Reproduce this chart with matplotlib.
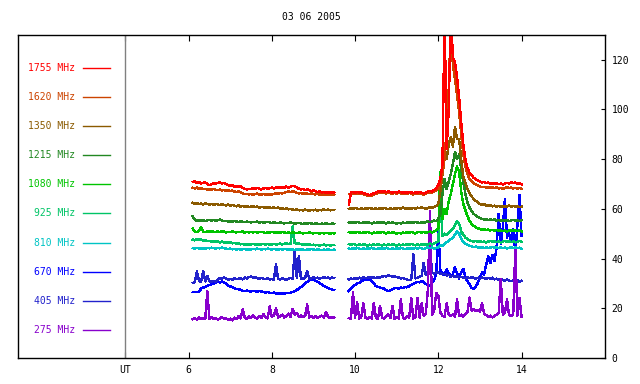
#!/usr/bin/env python3
"""
Multi-frequency solar radio flux, 03 06 2005 (two recorded stretches, flare ~12.2 UT).
"""
import matplotlib
matplotlib.use("Agg")
import matplotlib.pyplot as plt
from matplotlib.transforms import blended_transform_factory

# ---- sampling times (UT hours) ---------------------------------------------
t_a = [6.10, 6.15, 6.20, 6.25, 6.30, 6.35, 6.40, 6.45,
       6.50, 6.55, 6.60, 6.65, 6.70, 6.75, 6.80, 6.85, 6.90, 6.95,
       7.00, 7.05, 7.10, 7.15, 7.20, 7.25, 7.30, 7.35, 7.40, 7.45,
       7.50, 7.55, 7.60, 7.65, 7.70, 7.75, 7.80, 7.85, 7.90, 7.95,
       8.00, 8.05, 8.10, 8.15, 8.20, 8.25, 8.30, 8.35, 8.40, 8.45,
       8.50, 8.55, 8.60, 8.65, 8.70, 8.75, 8.80, 8.85, 8.90, 8.95,
       9.00, 9.05, 9.10, 9.15, 9.20, 9.25, 9.30, 9.35, 9.40, 9.45, 9.50]
t_b = [9.85, 9.90, 9.95, 10.00, 10.05, 10.10, 10.15, 10.20, 10.25, 10.30,
       10.35, 10.40, 10.45, 10.50, 10.55, 10.60, 10.65, 10.70, 10.75, 10.80,
       10.85, 10.90, 10.95, 11.00, 11.05, 11.10, 11.15, 11.20, 11.25, 11.30,
       11.35, 11.40, 11.45, 11.50, 11.55, 11.60, 11.65, 11.70, 11.75, 11.80,
       11.85, 11.90, 11.95,
       12.00, 12.05, 12.10, 12.15, 12.20, 12.25, 12.30, 12.35, 12.40, 12.45,
       12.50, 12.55, 12.60, 12.65, 12.70, 12.75, 12.80, 12.85, 12.90, 12.95,
       13.00, 13.05, 13.10, 13.15, 13.20, 13.25, 13.30, 13.35, 13.40, 13.45,
       13.50, 13.55, 13.60, 13.65, 13.70, 13.75, 13.80, 13.85, 13.90, 13.95, 14.00]

# ---- channel values --------------------------------------------------------
f1755_a = [70.8, 71.0, 70.4, 70.9, 70.2, 70.5, 70.6, 70.0,
           69.6, 69.8, 70.3, 70.1, 70.4, 70.6, 70.2, 70.5, 69.9, 69.5,
           69.3, 69.6, 69.0, 69.2, 68.8, 69.1, 68.4, 68.0, 67.8, 68.1,
           67.9, 68.3, 68.0, 68.4, 68.1, 67.8, 68.2, 68.5, 68.0, 68.3,
           68.6, 68.2, 68.5, 68.8, 68.4, 68.7, 68.5, 69.0, 68.6, 68.9,
           69.3, 69.0, 68.6, 68.1, 67.8, 68.0, 67.5, 67.9, 67.6, 67.2,
           67.4, 67.0, 66.8, 67.1, 66.6, 66.9, 66.5, 66.8, 66.4, 66.7, 66.5]
f1755_b = [61.5, 66.6, 66.9, 66.4, 66.8, 66.5, 66.9, 66.3, 66.1, 65.8,
           65.6, 65.9, 66.2, 66.5, 66.9, 67.2, 66.8, 67.1, 66.7, 67.0,
           66.8, 66.5, 66.9, 66.6, 67.0, 66.7, 66.4, 66.8, 66.5, 66.9,
           66.6, 66.3, 66.7, 66.4, 66.8, 66.5, 66.2, 66.6, 66.9, 67.3,
           67.0, 67.6, 68.2,
           69.5, 72.0, 78.0, 140.0, 84.0, 100.0, 140.0, 121.0, 119.0, 113.0,
           105.0, 95.0, 86.0, 80.0, 76.5, 74.5, 73.5, 72.5, 72.0, 71.4,
           71.0, 70.6, 70.9, 70.3, 70.6, 70.1, 70.4, 70.0, 70.3, 69.9,
           70.2, 69.8, 70.1, 70.5, 70.2, 70.7, 70.4, 70.6, 70.1, 70.3, 69.8]

f1620_a = [68.5, 68.2, 68.6, 68.0, 68.3, 67.9, 68.1, 67.8,
           67.9, 67.6, 68.0, 67.7, 67.5, 67.8, 67.4, 67.6, 67.3, 67.5,
           67.2, 67.4, 67.0, 66.8, 67.1, 66.6, 66.2, 65.9, 66.1, 65.8,
           66.0, 65.7, 65.9, 66.2, 65.8, 65.6, 66.0, 65.7, 65.9, 65.6,
           65.8, 66.0, 66.3, 66.1, 66.4, 66.2, 66.5, 66.8, 67.0, 66.7,
           67.2, 66.9, 66.5, 66.2, 66.4, 66.0, 66.3, 66.1, 65.9, 66.2,
           66.0, 65.8, 66.1, 65.7, 65.9, 65.6, 65.8, 65.5, 65.7, 65.6, 65.8]
f1620_b = [66.0, 66.1, 66.4, 65.9, 66.3, 66.0, 66.4, 65.8, 65.6, 65.3,
           65.1, 65.4, 65.7, 66.0, 66.4, 66.7, 66.3, 66.6, 66.2, 66.5,
           66.3, 66.0, 66.4, 66.1, 66.5, 66.2, 65.9, 66.3, 66.0, 66.4,
           66.1, 65.8, 66.2, 65.9, 66.3, 66.0, 65.7, 66.1, 66.4, 66.8,
           66.5, 67.0, 67.5,
           68.0, 70.0, 74.0, 80.0, 92.0, 108.0, 135.0, 118.0, 112.0, 106.0,
           99.0, 90.0, 82.0, 77.0, 74.0, 72.0, 71.0, 70.2, 69.8, 69.4,
           69.0, 68.7, 68.9, 68.5, 68.8, 68.4, 68.7, 68.3, 68.6, 68.2,
           68.5, 68.1, 68.4, 68.7, 68.3, 68.6, 68.2, 68.5, 68.1, 68.4, 68.0]

f1350_a = [62.4, 62.0, 62.3, 61.9, 62.1, 61.8, 62.2, 61.9,
           61.7, 62.0, 61.6, 61.9, 61.8, 61.5, 61.9, 61.6, 61.4, 61.7,
           61.3, 61.6, 61.2, 61.0, 61.4, 60.9, 61.2, 60.8, 61.1, 60.7,
           60.9, 61.1, 60.6, 60.9, 60.5, 60.8, 60.6, 60.4, 60.7, 60.5,
           60.3, 60.6, 60.2, 60.5, 60.1, 60.3, 59.9, 60.2, 59.8, 60.0,
           59.7, 59.5, 59.8, 59.4, 59.6, 59.3, 59.7, 59.5, 59.2, 59.6,
           59.4, 59.7, 59.3, 59.6, 59.4, 59.8, 59.5, 59.7, 59.4, 59.6, 59.5]
f1350_b = [60.0, 60.2, 60.0, 60.4, 60.1, 59.8, 60.2, 59.9, 60.3, 60.0,
           60.4, 60.1, 59.8, 60.2, 59.9, 60.3, 60.0, 60.4, 60.1, 59.8,
           60.2, 59.9, 60.3, 60.0, 60.4, 60.1, 60.5, 60.2, 59.9, 60.3,
           60.0, 60.4, 60.1, 60.5, 60.2, 60.6, 60.3, 60.0, 60.4, 60.7,
           60.4, 60.8, 61.2,
           62.0, 67.0, 74.0, 83.0, 80.0, 86.0, 89.0, 85.0, 93.0, 88.0,
           88.0, 80.0, 73.0, 70.5, 68.0, 66.3, 65.0, 64.0, 63.2, 62.6,
           62.0, 61.6, 61.9, 61.4, 61.2, 61.5, 61.0, 61.3, 60.9, 61.2,
           60.8, 61.1, 60.7, 61.0, 61.3, 60.9, 61.2, 60.8, 61.1, 60.7, 60.9]

f1215_a = [57.0, 55.6, 55.2, 55.5, 55.1, 55.4, 55.0, 55.3,
           55.6, 55.2, 55.5, 55.1, 55.4, 55.7, 55.3, 55.0, 55.2, 54.9,
           55.1, 54.8, 55.2, 54.9, 54.7, 55.0, 54.8, 54.6, 54.9, 54.7,
           54.5, 54.8, 54.6, 54.9, 54.5, 54.7, 54.4, 54.6, 54.8, 54.5,
           54.3, 54.6, 54.4, 54.2, 54.5, 54.3, 54.1, 54.4, 54.2, 54.5,
           54.3, 54.0, 54.2, 54.4, 54.1, 53.9, 54.2, 54.0, 54.3, 54.1,
           53.9, 54.2, 54.0, 53.8, 54.1, 53.9, 54.2, 54.0, 53.8, 54.1, 53.9]
f1215_b = [54.6, 54.3, 54.7, 54.4, 54.8, 54.5, 54.2, 54.6, 54.3, 54.7,
           54.4, 54.1, 54.5, 54.2, 54.6, 54.3, 54.7, 54.4, 54.1, 54.5,
           54.2, 54.6, 54.3, 54.0, 54.4, 54.1, 54.5, 54.2, 54.6, 54.3,
           54.7, 54.4, 54.8, 54.5, 54.2, 54.6, 54.3, 54.7, 55.0, 54.6,
           54.9, 55.3, 55.0,
           56.0, 58.0, 66.0, 72.0, 68.0, 71.0, 74.0, 78.0, 83.0, 80.0,
           82.0, 76.0, 71.0, 66.0, 62.5, 60.5, 59.0, 58.0, 57.3, 56.8,
           56.3, 56.0, 55.7, 55.9, 55.5, 55.8, 55.4, 55.7, 55.3, 55.6,
           55.2, 55.5, 55.1, 55.4, 55.0, 55.3, 55.6, 55.2, 55.5, 55.1, 55.4]

f1080_a = [52.0, 50.9, 50.7, 51.0, 52.6, 50.8, 50.6, 50.9,
           50.7, 51.0, 50.8, 50.6, 50.9, 50.7, 51.0, 50.8, 50.5, 50.8,
           50.6, 50.9, 50.7, 50.5, 50.8, 50.6, 50.9, 50.4, 50.7, 50.5,
           50.8, 50.5, 50.7, 50.4, 50.6, 50.8, 50.5, 50.3, 50.6, 50.4,
           50.7, 50.5, 50.3, 50.6, 50.4, 50.7, 50.5, 50.2, 50.5, 50.3,
           50.6, 50.4, 50.2, 50.5, 50.3, 50.1, 50.4, 50.2, 50.5, 50.3,
           50.1, 50.4, 50.2, 50.0, 50.3, 50.1, 50.4, 50.2, 50.0, 50.3, 50.1]
f1080_b = [50.6, 50.3, 50.7, 50.4, 50.8, 50.5, 50.2, 50.6, 50.3, 50.7,
           50.4, 50.1, 50.5, 50.2, 50.6, 50.3, 50.7, 50.4, 50.1, 50.5,
           50.2, 50.6, 50.3, 50.0, 50.4, 50.1, 50.5, 50.2, 50.6, 50.3,
           50.7, 50.4, 50.1, 50.5, 50.8, 50.4, 50.7, 50.3, 50.6, 50.9,
           50.5, 50.9, 51.2,
           52.0, 75.0, 56.0, 60.0, 58.0, 63.0, 66.0, 70.0, 74.0, 77.0,
           75.0, 67.0, 62.0, 59.5, 57.0, 55.2, 54.0, 53.2, 52.6, 52.2,
           51.9, 51.6, 51.8, 51.4, 51.7, 51.3, 51.6, 51.2, 51.5, 51.1,
           51.4, 51.0, 51.3, 50.9, 51.2, 51.5, 51.1, 51.4, 51.0, 51.3, 50.9]

f925_a = [47.6, 47.3, 47.8, 47.5, 47.7, 47.2, 47.4, 47.0,
          47.1, 46.8, 47.0, 46.7, 46.9, 46.5, 46.8, 46.4, 46.6, 46.3,
          46.5, 46.1, 46.3, 45.9, 46.1, 45.7, 45.9, 45.6, 45.8, 45.5,
          45.7, 45.9, 45.6, 45.8, 45.5, 45.7, 45.9, 45.6, 45.8, 45.5,
          45.7, 45.9, 45.6, 45.8, 46.0, 45.7, 45.9, 46.1, 45.8, 46.0,
          53.0, 46.2, 45.9, 46.1, 45.8, 45.6, 45.8, 45.5, 45.7, 45.4,
          45.6, 45.3, 45.5, 45.2, 45.4, 45.6, 45.3, 45.5, 45.2, 45.4, 45.5]
f925_b = [45.8, 45.5, 45.9, 45.6, 45.3, 45.7, 45.4, 45.8, 45.5, 45.2,
          45.6, 45.3, 45.7, 45.4, 45.8, 45.5, 45.2, 45.6, 45.3, 45.7,
          45.4, 45.8, 45.5, 45.2, 45.6, 45.3, 45.7, 45.4, 45.8, 45.5,
          45.9, 45.6, 45.3, 45.7, 45.4, 45.8, 45.5, 45.9, 45.6, 46.0,
          45.7, 46.1, 46.4,
          47.0, 64.0, 49.0, 50.0, 49.5, 50.5, 51.0, 52.0, 53.5, 55.0,
          54.0, 51.0, 49.5, 48.5, 47.8, 47.3, 47.0, 46.8, 47.1, 46.7,
          47.0, 46.6, 46.9, 46.5, 46.8, 47.1, 46.7, 47.0, 46.6, 46.9,
          46.5, 46.8, 47.1, 46.7, 47.0, 46.6, 46.9, 46.5, 46.8, 47.1, 46.7]

f810_a = [44.2, 44.0, 44.3, 44.1, 43.9, 44.2, 44.0, 44.3,
          44.1, 44.4, 44.2, 44.0, 44.3, 44.1, 44.4, 44.2, 44.0, 43.8,
          44.0, 43.7, 43.9, 43.6, 43.8, 43.5, 43.7, 43.9, 43.6, 43.8,
          43.6, 43.9, 43.7, 44.0, 43.8, 43.6, 43.9, 43.7, 44.0, 43.8,
          43.6, 43.9, 43.7, 43.5, 43.8, 43.6, 43.9, 43.7, 43.5, 43.8,
          43.6, 43.4, 43.7, 43.5, 43.8, 43.6, 43.4, 43.7, 43.5, 43.8,
          43.6, 43.4, 43.7, 43.5, 43.3, 43.6, 43.4, 43.7, 43.5, 43.3, 43.6]
f810_b = [44.1, 43.8, 44.2, 43.9, 44.3, 44.0, 43.7, 44.1, 43.8, 44.2,
          43.9, 44.3, 44.0, 43.7, 44.1, 43.8, 44.2, 43.9, 44.3, 44.0,
          43.7, 44.1, 43.8, 44.2, 43.9, 44.3, 44.0, 43.7, 44.1, 43.8,
          44.2, 43.9, 44.3, 44.0, 44.4, 44.1, 43.8, 44.2, 44.5, 44.1,
          44.4, 44.0, 44.3,
          44.5, 45.5, 45.0, 45.8, 46.5, 47.0, 47.8, 48.5, 49.5, 51.0,
          50.0, 48.0, 46.8, 46.0, 45.5, 45.2, 44.9, 44.6, 44.8, 44.5,
          44.3, 44.6, 44.2, 44.5, 44.1, 44.4, 44.7, 44.3, 44.6, 44.2,
          44.5, 44.1, 44.4, 44.0, 44.3, 44.6, 44.2, 44.5, 44.1, 44.4, 44.0]

f670_a = [26.5, 26.4, 26.6, 26.5, 27.9, 28.3, 28.6, 29.0,
          29.3, 29.6, 29.9, 30.3, 30.6, 30.4, 30.8, 30.5, 29.8, 29.2,
          28.8, 28.4, 28.0, 27.8, 27.6, 27.4, 27.0, 26.8, 27.1, 26.9,
          26.7, 27.0, 26.8, 26.6, 26.9, 26.7, 26.5, 26.3, 26.6, 26.2,
          26.0, 26.3, 25.9, 26.1, 25.8, 26.0, 25.9, 26.2, 26.0, 26.3,
          26.5, 26.9, 27.4, 27.8, 28.5, 29.3, 30.0, 30.6, 31.2, 31.6,
          31.4, 31.0, 30.6, 30.1, 29.5, 29.0, 28.6, 28.2, 27.8, 27.5, 27.3]
f670_b = [26.9, 27.8, 28.9, 29.4, 30.0, 30.2, 30.8, 31.2, 31.6, 31.3,
          31.7, 30.9, 30.2, 28.9, 28.6, 28.3, 28.2, 27.8, 27.3, 26.9,
          27.2, 27.6, 28.0, 28.2, 27.9, 28.3, 28.2, 28.6, 28.4, 28.9,
          29.4, 29.8, 30.2, 30.6, 30.4, 30.9, 30.5, 29.8, 29.1, 28.9,
          30.5, 31.2, 33.8,
          52.0, 35.0, 34.3, 33.5, 35.6, 34.2, 32.5, 33.8, 36.5, 34.0,
          32.0, 34.5, 35.8, 32.5, 30.8, 29.6, 28.2, 27.8, 28.6, 30.2,
          32.4, 34.4, 33.6, 37.5, 40.8, 38.2, 41.5, 39.0, 44.5, 58.0,
          46.0, 52.5, 64.0, 48.5, 50.2, 46.8, 52.0, 42.5, 53.5, 65.5, 49.0]

f405_a = [30.2, 30.5, 34.9, 31.0, 30.6, 34.9, 30.8, 33.0,
          30.9, 30.6, 31.0, 30.7, 31.5, 32.2, 31.8, 32.4, 31.9, 31.5,
          31.8, 31.5, 32.0, 31.7, 31.9, 32.1, 31.6, 32.3, 32.0, 32.5,
          32.7, 32.3, 32.6, 32.1, 31.8, 32.2, 31.9, 31.7, 32.0, 31.6,
          31.8, 31.5, 37.6, 31.9, 31.6, 32.0, 31.7, 31.5, 31.9, 32.2,
          31.8, 43.3, 32.1, 41.0, 31.7, 31.9, 32.2, 35.0, 31.8, 32.1,
          32.4, 32.0, 32.3, 31.9, 32.2, 32.5, 32.1, 32.4, 32.0, 32.3, 32.1]
f405_b = [31.6, 31.9, 31.7, 32.1, 31.8, 32.3, 32.0, 32.4, 32.1, 32.3,
          32.5, 32.2, 32.4, 32.1, 32.6, 32.3, 32.7, 33.0, 32.8, 33.2,
          33.0, 32.7, 32.9, 32.5, 32.3, 32.0, 32.2, 31.8, 31.5, 31.3,
          31.6, 41.6, 32.0, 32.3, 32.6, 33.0, 38.3, 33.4, 33.6, 44.0,
          34.3, 34.0, 34.5,
          34.3, 34.0, 33.6, 33.9, 33.2, 33.5, 32.8, 33.1, 32.6, 32.9,
          32.4, 32.7, 32.3, 32.0, 32.4, 32.1, 32.5, 32.2, 31.9, 32.3,
          32.0, 32.4, 32.1, 31.8, 32.2, 31.9, 32.3, 31.6, 31.9, 31.5,
          31.8, 31.4, 31.1, 31.5, 31.2, 30.8, 31.3, 30.9, 31.2, 30.7, 31.0]

f275_a = [15.6, 15.9, 15.4, 16.2, 15.7, 16.0, 15.5, 26.9,
          15.8, 16.3, 15.6, 16.1, 15.4, 15.9, 16.5, 15.7, 16.0, 15.3,
          15.8, 15.1, 16.2, 15.6, 16.8, 15.9, 19.5, 16.2, 15.7, 16.6,
          16.0, 17.2, 16.3, 15.8, 16.9, 16.1, 17.5, 16.4, 15.9, 20.7,
          16.5, 17.1, 20.0, 16.3, 16.8, 17.4, 16.2, 16.9, 17.8, 16.6,
          19.7, 17.3, 18.1, 16.5, 17.0, 16.4, 16.8, 21.5, 16.3, 16.9,
          16.2, 16.7, 16.1, 16.5, 17.0, 16.3, 18.5, 16.6, 16.0, 16.4, 16.2]
f275_b = [16.0, 15.6, 26.3, 16.3, 22.3, 15.8, 16.5, 22.0, 16.1, 15.7,
          16.4, 15.9, 22.0, 16.2, 15.6, 21.0, 16.3, 15.8, 16.6, 17.5,
          16.0, 21.0, 15.7, 16.4, 15.9, 23.5, 16.2, 15.6, 16.8, 16.1,
          24.0, 15.8, 16.5, 24.0, 16.2, 22.0, 16.9, 18.0, 27.5, 59.0,
          17.5, 19.0, 26.2,
          25.0, 18.2, 17.0, 16.5, 22.0, 17.3, 16.8, 17.6, 16.4, 23.5,
          16.9, 17.4, 16.6, 17.8, 18.5, 24.3, 19.0, 19.5, 18.8, 19.3,
          18.6, 22.0, 17.8, 17.2, 16.5, 17.0, 16.3, 16.8, 17.4, 18.2,
          31.6, 17.5, 18.0, 23.5, 17.2, 16.8, 17.6, 44.5, 17.0, 24.0, 16.5]

labels = ["1755 MHz", "1620 MHz", "1350 MHz", "1215 MHz", "1080 MHz",
          "925 MHz", "810 MHz", "670 MHz", "405 MHz", "275 MHz"]
colors = ["#ff0000", "#cc4400", "#8b5a00", "#228822", "#00c400",
          "#00c466", "#00c4c4", "#0000ff", "#2222cc", "#8800cc"]
series = [(f1755_a, f1755_b), (f1620_a, f1620_b), (f1350_a, f1350_b),
          (f1215_a, f1215_b), (f1080_a, f1080_b), (f925_a, f925_b),
          (f810_a, f810_b), (f670_a, f670_b), (f405_a, f405_b),
          (f275_a, f275_b)]
draw_order = [7, 8, 9, 6, 5, 4, 3, 2, 1, 0]

xticks = [4.47, 6, 8, 10, 12, 14]
xticklabels = ["UT", "6", "8", "10", "12", "14"]
yticks = [0, 20, 40, 60, 80, 100, 120]

plt.rcParams["font.family"] = ["DejaVu Sans Mono"]
plt.rcParams["font.size"] = 7

fig = plt.figure(figsize=(6.4, 3.84), dpi=100)
ax = fig.add_axes([0.028, 0.068, 0.917, 0.841])

for k in draw_order:
    a, b = series[k]
    ax.plot(t_a, a, color=colors[k], lw=1.0, antialiased=False)
    ax.plot(t_b, b, color=colors[k], lw=1.0, antialiased=False)

# separator between the legend panel and the data
ax.axvline(4.47, color="#808080", lw=1)

# legend panel: coloured label + sample line (axes-fraction layout)
tr = blended_transform_factory(ax.transAxes, ax.transAxes)
for k, (lab, col) in enumerate(zip(labels, colors)):
    y = 0.899 - 0.0903 * k
    ax.text(0.097, y, lab, color=col, ha="right", va="center",
            transform=tr, fontsize=7)
    ax.plot([0.111, 0.157], [y, y], color=col, lw=1, transform=tr)

ax.set_xlim(1.9, 16.0)
ax.set_ylim(0, 130)
ax.set_xticks(xticks, xticklabels)
ax.set_yticks(yticks)
ax.yaxis.tick_right()
ax.tick_params(axis="x", direction="in", length=4, top=True, pad=5)
ax.tick_params(axis="y", direction="in", length=3, right=True, left=False,
               pad=5)
for s in ax.spines.values():
    s.set_linewidth(1)

fig.text(0.487, 0.956, "03 06 2005", ha="center", va="center", fontsize=7)

fig.savefig("out.png", dpi=100)
